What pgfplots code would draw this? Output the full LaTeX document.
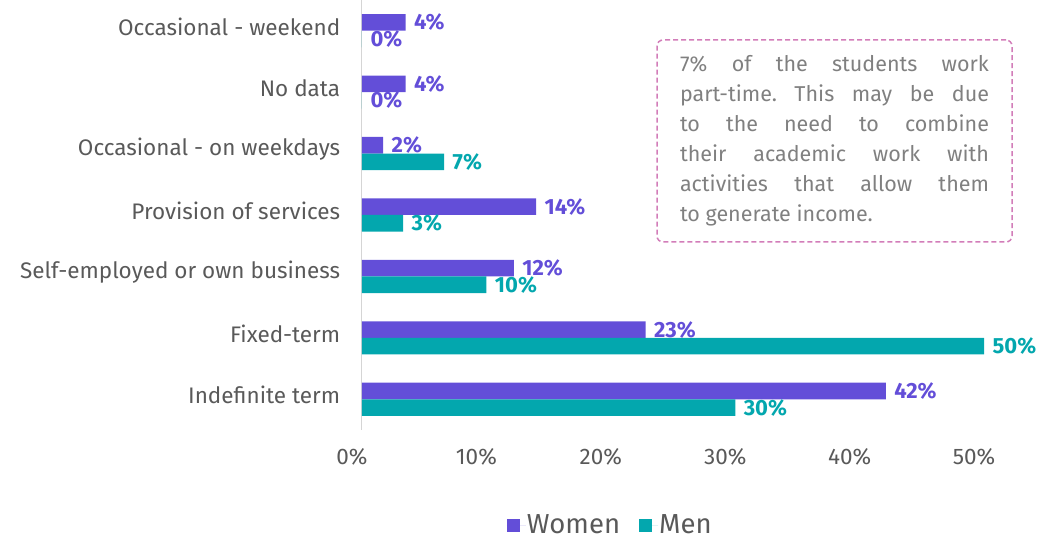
\documentclass[border=0pt]{standalone}
\usepackage{pgfplots}
\pgfplotsset{compat=1.18}
\usepackage{fontspec}
\setmainfont{Fira Sans}
\frenchspacing
\definecolor{women}{HTML}{634ED8}
\definecolor{men}{HTML}{03A7AE}
\definecolor{txt}{HTML}{595959}
\definecolor{boxtxt}{HTML}{808080}
\definecolor{boxc}{HTML}{D27DB9}
\begin{document}
\begin{tikzpicture}
\useasboundingbox (-362pt,-110pt) rectangle (680pt,430pt);
\begin{axis}[
 scale only axis, width=647pt, height=430pt,
 xbar, bar width=0.27,
 xmin=0, xmax=52, ymin=-0.5, ymax=6.5,
 axis lines*=left,
 x axis line style={draw=none},
 y axis line style={draw=txt!25, line width=1pt},
 xtick={0,10,20,30,40,50},
 xticklabels={0\%,10\%,20\%,30\%,40\%,50\%},
 xtick style={draw=none}, ytick style={draw=none},
 ytick={0,1,2,3,4,5,6},
 yticklabels={Indefinite term,Fixed-term,Self-employed or own business,Provision of services,Occasional - on weekdays,No data,Occasional - weekend},
 tick label style={font=\fontsize{22.5}{26}\selectfont, text=txt},
 xticklabel style={yshift=-15pt, xshift=-10pt},
 yticklabel style={xshift=-14pt, yshift=4pt},
 clip=false,
 nodes near coords={\pgfplotspointmeta}, point meta=explicit symbolic,
 nodes near coords style={font=\fontsize{22}{26}\selectfont\bfseries, anchor=west, xshift=5pt},
 legend image code/.code={\fill[#1] (0pt,-6.5pt) rectangle (13pt,6.5pt); \path (0pt,0pt) -- (19pt,0pt);},
 legend style={at={(axis description cs:0.383,-0.221)}, anchor=center, draw=none, fill=none,
   legend columns=2, font=\fontsize{27.5}{30}\selectfont, text=txt, inner sep=0pt,
   nodes={inner sep=1pt},
   /tikz/every even column/.append style={column sep=18pt}},
]
\addplot[fill=women, draw=none, bar shift=0.135, every node near coord/.append style={text=women}]
 coordinates {(42.1,0) [42\%] (22.8,1) [23\%] (12.2,2) [12\%] (14.0,3) [14\%] (1.7,4) [2\%] (3.5,5) [4\%] (3.5,6) [4\%]};
\addlegendentry{Women}
\addplot[fill=men, draw=none, bar shift=-0.135, every node near coord/.append style={text=men}]
 coordinates {(30.0,0) [30\%] (50.0,1) [50\%] (10.0,2) [10\%] (3.3,3) [3\%] (6.6,4) [7\%] (0,5) [{\textcolor{women}{0\%}}] (0,6) [{\textcolor{women}{0\%}}]};
\addlegendentry{Men}
\end{axis}
\node[draw=boxc, line width=1.5pt, dash pattern=on 5pt off 3pt, rounded corners=6pt,
  minimum width=355pt, minimum height=202pt, text width=309pt, align=justify,
  inner xsep=23pt, font=\fontsize{21.5}{30}\selectfont, text=boxtxt] at (472.5pt,289pt)
 {7\% of the students work\linebreak part-time. This may be due\linebreak to the need to combine\linebreak their academic work with\linebreak activities that allow them\linebreak to generate income.};
\end{tikzpicture}
\end{document}
